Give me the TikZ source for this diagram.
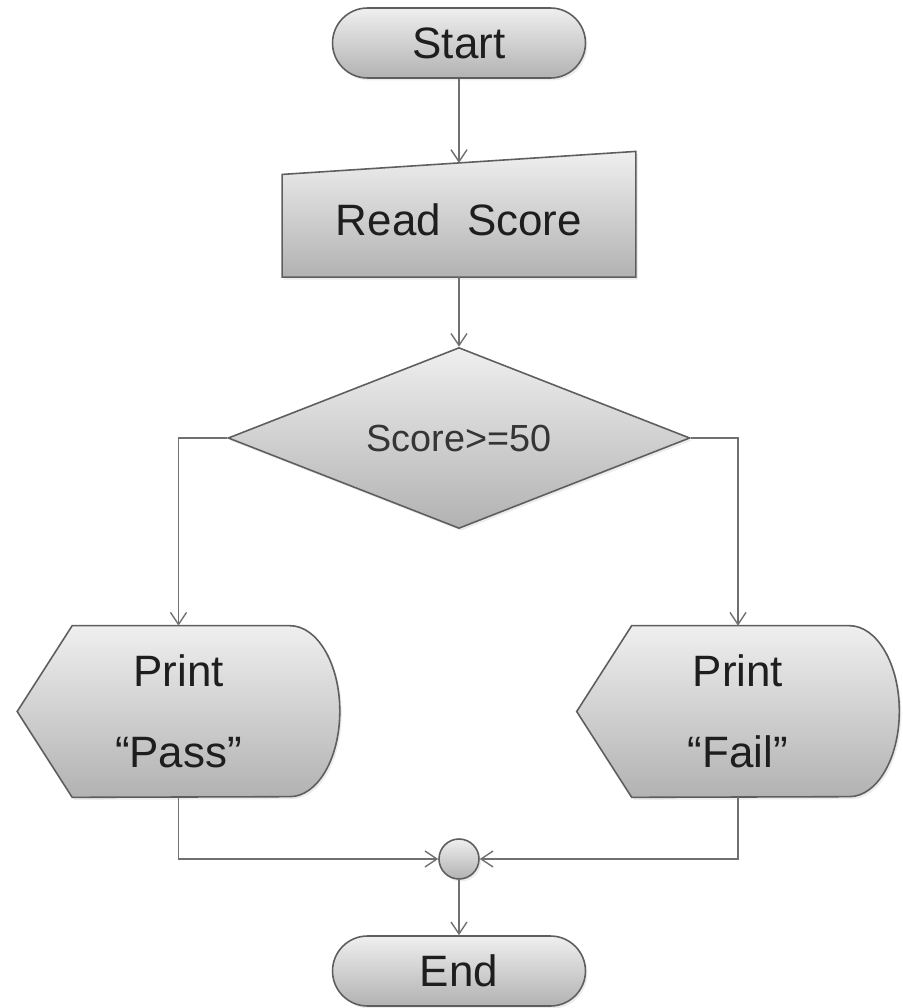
\documentclass[tikz,border=0pt]{standalone}
\usepackage{fontspec}
\setmainfont{Liberation Sans}
\usepackage{tikz}
\usepackage{xcolor}
\usetikzlibrary{positioning, shapes, arrows.meta, calc, backgrounds, shadows}

\definecolor{linegray}{HTML}{707070}
\definecolor{edgegray}{HTML}{5E5E5E}
\definecolor{topgray}{HTML}{EFEFEF}
\definecolor{botgray}{HTML}{B2B2B2}
\definecolor{txtgray}{HTML}{1E1E1E}

\begin{document}
\begin{tikzpicture}[x=0.02cm, y=0.02cm,
    grayfill/.style={draw=edgegray, line width=0.9pt, top color=topgray, bottom color=botgray,
        drop shadow={opacity=0.15, shadow xshift=0.04cm, shadow yshift=-0.05cm}},
    lbl/.style={font=\fontsize{25}{46}\selectfont, text=txtgray, align=center, inner sep=0pt},
    terminal/.style={rounded rectangle, grayfill, lbl, minimum width=5.06cm, minimum height=1.4cm},
    display/.style={lbl, minimum width=6.44cm, minimum height=3.42cm},
    flow/.style={draw=linegray, line width=0.8pt, -{Straight Barb[length=2.4mm, width=3.2mm]}}]
            \useasboundingbox (0, 0) rectangle (903, -1008);

            \node[terminal] (start) at (459, -43) {Start};
            \node[lbl, minimum width=7.06cm, minimum height=2.27cm] (read) at (459, -220) {Read\hspace{0.6em}Score};
            \node[diamond, grayfill, font=\fontsize{21.5}{26}\selectfont, text=txtgray!90, inner sep=0pt,
                shape aspect=2.55, minimum width=9.24cm, minimum height=3.62cm] (test) at (459, -438) {Score>=50};
            \node[display] (pass) at (178.5, -711.5) {Print\\“Pass”};
            \node[display] (fail) at (738, -711.5) {Print\\“Fail”};
            \node[circle, grayfill, minimum size=0.8cm, inner sep=0pt] (join) at (459, -859) {};
            \node[terminal] (end) at (459, -971) {End};

            \begin{pgfonlayer}{background}
                \path[grayfill] (read.south west) -- (read.south east) -- ($(read.north east)+(0, 11.5)$)
                    -- ($(read.north west)+(0, -11.5)$) -- cycle;
                \foreach \n in {pass, fail}
                    \path[grayfill] (\n.west) -- ($(\n.north west)+(55, 0)$) -- ($(\n.north east)+(-50, 0)$)
                        arc[start angle=90, end angle=-90, x radius=50, y radius=85.5]
                        -- ($(\n.south west)+(55, 0)$) -- cycle;
            \end{pgfonlayer}

            \draw[flow] (start.south) -- (read.north);
            \draw[flow] (read.south) -- (test.north);
            \draw[flow] (test.west) -| (pass.north);
            \draw[flow] (test.east) -| (fail.north);
            \draw[flow] (pass.south) |- (join.west);
            \draw[flow] (fail.south) |- (join.east);
            \draw[flow] (join.south) -- (end.north);
        \end{tikzpicture}
\end{document}
